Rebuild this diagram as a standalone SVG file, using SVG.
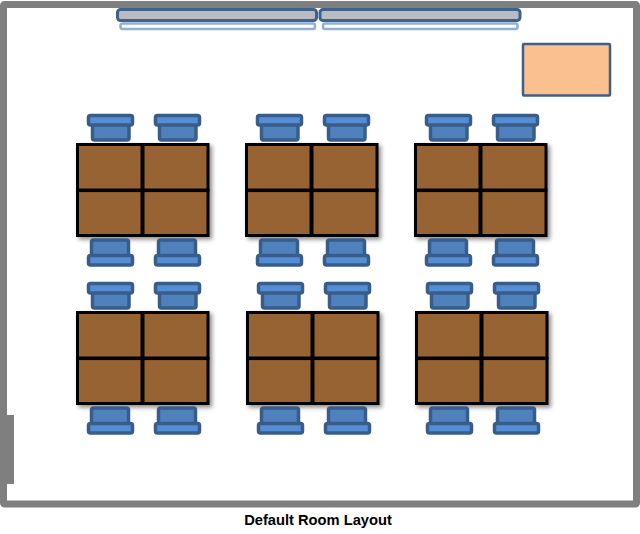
<svg xmlns="http://www.w3.org/2000/svg" width="640" height="534" viewBox="0 0 640 534">
<style>
.wall{fill:#fff;stroke:#7f7f7f;stroke-width:7}
.door{fill:#7f7f7f}
.desk{fill:#976433;stroke:#000;stroke-width:3}
.chair{fill:#4f81bd;stroke:#385d8a;stroke-width:3.500}
.back{fill:#558ed5}
.board{fill:#b9bcc2;stroke:#3f628c;stroke-width:3}
.tray{fill:#fff;stroke:#8fb0d8;stroke-width:2.500}
.box{fill:#fac090;stroke:#3f5f85;stroke-width:2.500}
.cap{font:bold 14.700px "Liberation Sans",Arial,sans-serif;fill:#000;text-anchor:middle}
</style>
<defs>
<filter id="sh" x="-10%" y="-10%" width="125%" height="125%"><feDropShadow dx="2.500" dy="2.500" stdDeviation="2" flood-color="#000" flood-opacity="0.45"/></filter>
<g id="ct"><rect class="chair" x="92.500" y="124" width="36.500" height="16" rx="2"/><rect class="chair back" x="88.500" y="115.500" width="44" height="9.500" rx="2"/></g>
<g id="cb"><rect class="chair" x="91.500" y="240" width="37" height="16" rx="2"/><rect class="chair back" x="88.500" y="255.500" width="44" height="9.500" rx="2"/></g>
<g id="cluster">
<use href="#ct"/><use href="#ct" x="67"/>
<g filter="url(#sh)">
<rect class="desk" x="77.500" y="144.500" width="64.500" height="45.500"/>
<rect class="desk" x="143" y="144.500" width="65" height="45.500"/>
<rect class="desk" x="77.500" y="190.600" width="64.500" height="44.900"/>
<rect class="desk" x="143" y="190.600" width="65" height="44.900"/>
</g>
<use href="#cb"/><use href="#cb" x="67"/>
</g>
</defs>
<rect width="640" height="534" fill="#fff"/>
<g id="room">
<rect class="wall" x="3.500" y="4.500" width="633" height="499.500" rx="1"/>
<rect class="door" x="6" y="415" width="8" height="69"/>
</g>
<g id="board-left">
<rect class="tray" x="120.500" y="23.500" width="194.500" height="5.500" rx="2"/>
<rect class="board" x="117.500" y="9.500" width="199" height="11" rx="3"/>
</g>
<g id="board-right">
<rect class="tray" x="323" y="23.500" width="194.500" height="5.500" rx="2"/>
<rect class="board" x="320" y="9.500" width="200" height="11" rx="3"/>
</g>
<g id="teacher-desk"><rect class="box" x="523" y="44" width="87" height="51.500" rx="1"/></g>
<g id="cluster-1"><use href="#cluster"/></g>
<g id="cluster-2"><use href="#cluster" x="169"/></g>
<g id="cluster-3"><use href="#cluster" x="338"/></g>
<g id="cluster-4"><use href="#cluster" y="168"/></g>
<g id="cluster-5"><use href="#cluster" x="170" y="168"/></g>
<g id="cluster-6"><use href="#cluster" x="339" y="168"/></g>
<g id="connectors"/>
<text class="cap" x="318" y="525">Default Room Layout</text>
</svg>
